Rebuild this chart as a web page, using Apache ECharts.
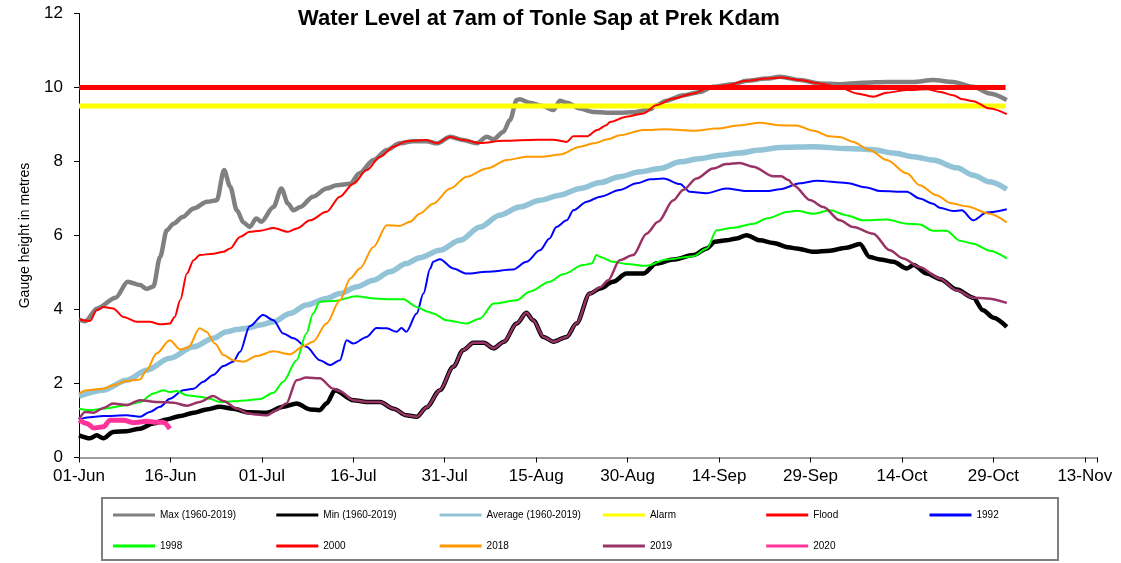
<!DOCTYPE html>
<html lang="en">
<head>
    <meta charset="UTF-8">
    <title>Water Level at 7am of Tonle Sap at Prek Kdam</title>
    <script src="https://cdn.jsdelivr.net/npm/echarts@6/dist/echarts.min.js"></script>
    <style>
        html, body { margin: 0; padding: 0; background: #fff; }
        #box { width: 1121px; height: 563px; }
    </style>
</head>
<body>
<div id="box"></div>
<script>
    // x = days since 01-Jun
    var tickLabels = ['01-Jun','16-Jun','01-Jul','16-Jul','31-Jul','15-Aug','30-Aug','14-Sep','29-Sep','14-Oct','29-Oct','13-Nov'];
    var lastDay = 152;
    var alarmLevel = 9.5;
    var floodLevel = 10;

    var maxDays = [0,1,3,6,8,10,11.1,12.2,13.3,14.4,15.5,17,18.8,21,22.6,23.8,24.8,25.9,27,28,29.1,29.9,31.9,33.2,34.3,35.2,36.3,38.4,40.6,42.3,44.5,46,48.3,50.5,52.6,54.8,57,58.7,60.9,63,65.2,66.9,68,69.6,70.7,71.8,72.3,73.9,76.1,77.8,78.9,80,82.2,84.4,86.5,88.7,90.9,93.7,94.7,96.3,99.1,101.9,104,107.4,109.5,112.8,115,118.3,121.5,124.8,128.7,132.5,136.9,140.1,143.4,146.7,149.4,152.2];
    var maxVals = [3.73,3.68,4.03,4.32,4.75,4.66,4.56,4.62,5.42,6.14,6.32,6.5,6.73,6.91,6.95,7.77,7.32,6.68,6.35,6.23,6.46,6.37,6.77,7.27,6.86,6.68,6.77,7.05,7.27,7.36,7.4,7.68,8.04,8.31,8.49,8.55,8.55,8.49,8.67,8.58,8.49,8.67,8.6,8.8,9.12,9.66,9.68,9.59,9.5,9.39,9.64,9.59,9.43,9.34,9.32,9.32,9.33,9.41,9.52,9.64,9.79,9.88,10.02,10.09,10.18,10.24,10.29,10.2,10.11,10.09,10.13,10.15,10.15,10.2,10.15,10.02,9.84,9.66];

    var minDays = [0,1.8,2.9,4,5.6,7.8,10,12.2,14.4,16.6,18.8,20.9,23.1,25.3,27.8,30.8,33.5,35.7,37.9,39.5,40.6,42,45,47.2,49.4,51.6,53.7,55.4,57,59.2,61.4,63,64.7,66.4,68,69.7,71.8,73.4,74.5,76.2,77.8,80,81.6,83.8,85.5,87.6,89.8,92.6,94.7,97.5,100.8,103,104.3,106.2,107.9,109.5,111.7,113.9,116.4,117.7,120.5,123.2,125.9,128.1,129.7,131.4,133.6,135.8,136.9,139.1,141.3,144,146.7,148.3,150,152.2];
    var minVals = [0.6,0.52,0.6,0.52,0.69,0.71,0.78,0.92,1.03,1.12,1.21,1.3,1.37,1.32,1.22,1.21,1.37,1.46,1.3,1.28,1.46,1.82,1.55,1.5,1.5,1.32,1.14,1.1,1.35,1.82,2.45,2.9,3.1,3.1,2.95,3.13,3.62,3.91,3.71,3.26,3.13,3.26,3.62,4.43,4.57,4.75,4.97,4.97,5.24,5.35,5.47,5.65,5.83,5.87,5.92,6.01,5.87,5.8,5.68,5.65,5.56,5.59,5.67,5.77,5.42,5.35,5.29,5.11,5.2,4.97,4.82,4.54,4.32,3.98,3.78,3.53];

    var avgDays = [0,4,7.8,11.1,14.9,18.8,22,24.2,25.9,27.8,29.7,31.9,34.6,37.3,40.6,42.8,45.5,48.3,51,53.7,55.9,59.2,62.5,65.8,69,72.3,75.6,78.9,82.2,85.5,88.7,92,95.3,98.6,101.9,105.2,108.4,111.7,115,120.5,126,130.3,133.6,136.9,140.1,144,146.7,149.4,152.2];
    var avgVals = [1.66,1.82,2.09,2.36,2.68,2.99,3.22,3.4,3.46,3.5,3.58,3.67,3.89,4.12,4.3,4.43,4.61,4.79,5.02,5.24,5.4,5.6,5.87,6.23,6.55,6.77,6.95,7.09,7.27,7.43,7.59,7.72,7.81,7.99,8.08,8.17,8.23,8.31,8.38,8.4,8.35,8.32,8.23,8.13,8.04,7.83,7.63,7.45,7.25];

    var y1992Days = [0,1.3,4,7.8,10,11.6,13.3,14.9,17.1,18.8,20.4,22,23.7,25.3,26.4,28,30.2,31.9,33.5,35.2,37.3,39.5,41.2,42.8,43.9,45,47.2,48.8,50.5,52.1,52.9,53.7,55.4,56.5,57.6,58.1,59.2,61.4,63.6,66.9,71.2,73.4,75.6,77.2,78.3,80,81.1,83.3,85.5,88.7,91.5,93.7,95.9,98.6,100.2,102.9,106.2,109.5,112.8,115,118.3,121,125.9,129.2,131.4,135.8,137.9,140.1,141.2,143.4,144.8,146.7,148.9,152.2];
    var y1992Vals = [1.01,1.08,1.12,1.14,1.1,1.23,1.37,1.59,1.82,1.86,2.05,2.23,2.47,2.59,2.85,3.55,3.85,3.71,3.35,3.22,2.99,2.63,2.5,2.63,3.17,3.08,3.26,3.5,3.49,3.4,3.5,3.4,3.89,4.43,5.1,5.29,5.36,5.11,4.97,5.02,5.08,5.29,5.6,5.92,6.23,6.41,6.68,6.91,7.05,7.23,7.41,7.52,7.54,7.39,7.18,7.14,7.27,7.2,7.2,7.25,7.41,7.48,7.42,7.3,7.2,7.18,7.0,6.86,6.75,6.66,6.68,6.41,6.62,6.71];

    var y1998Days = [0,1.8,4,7.8,10,12.2,13.8,14.9,16,17.7,19.8,21.5,23.1,25.3,27.8,29.7,31.9,33.5,35.7,37.3,38.4,39.5,41.8,45.5,48.3,50.5,53.2,55.4,57.3,58.1,60.3,63.6,65.8,68,71.8,73.9,77.2,79.4,82.7,84.1,84.9,85.5,87.6,89.8,93.1,96.4,100.8,103,104.6,107.3,110.7,112.8,116.4,117.7,120.5,123.2,125.9,128.6,132.5,135.8,137.9,140.1,142.3,144.5,146.7,149.4,152.2];
    var y1998Vals = [1.32,1.28,1.32,1.41,1.5,1.73,1.82,1.77,1.8,1.68,1.64,1.59,1.5,1.52,1.55,1.58,1.75,2.05,2.63,3.35,3.89,4.21,4.23,4.36,4.3,4.28,4.28,4.07,3.94,3.89,3.71,3.62,3.76,4.16,4.25,4.48,4.75,4.95,5.2,5.24,5.47,5.42,5.29,5.23,5.18,5.35,5.44,5.65,6.14,6.21,6.32,6.46,6.64,6.67,6.59,6.68,6.55,6.41,6.43,6.32,6.3,6.13,6.13,5.86,5.78,5.59,5.38];

    var y2000Days = [0,1.8,2.9,4,5.6,7.3,9.5,11.6,13.3,14.9,15.7,16.6,17.7,18.8,19.8,22,23.7,24.8,26.4,28,29.7,31.9,34.3,35.7,37.9,40.6,42.8,45,47.2,49.4,51.6,53.7,57,58.7,60.9,63,65.8,69.6,75.1,77.8,80,81.1,83.3,85,86.5,87.1,89.8,92.6,94.7,97.5,100.8,103.5,106.3,109.5,112.8,115.2,118.3,121.5,124.8,127.6,130.3,132.5,135.8,139.1,141.3,143.4,145,146.7,149.4,152.2];
    var y2000Vals = [3.73,3.69,3.98,4.07,4.03,3.8,3.67,3.67,3.6,3.62,3.8,4.25,4.97,5.33,5.47,5.51,5.56,5.65,5.96,6.1,6.13,6.2,6.1,6.19,6.41,6.64,7.05,7.4,7.77,8.13,8.4,8.55,8.58,8.49,8.67,8.58,8.5,8.56,8.59,8.59,8.53,8.68,8.68,8.85,8.98,9.07,9.21,9.3,9.52,9.7,9.84,10.0,10.06,10.18,10.24,10.27,10.2,10.11,10.0,9.84,9.75,9.86,9.93,9.95,9.88,9.79,9.68,9.63,9.43,9.28];

    var y2018Days = [0,1.3,4,5.6,7.8,10,11.1,12.7,14.9,16.6,17.9,19.8,20.9,22.3,23.7,25.3,27,29.1,31.9,34.6,36.8,38.4,40.6,42.8,44.5,46.1,48.3,50.5,52.6,54.3,55.9,58.1,60.9,63.6,66.9,70.2,73.4,76.2,78.9,82.2,84.4,86.8,88.7,92.6,96.3,100.8,104.6,108.4,111.7,115,117.7,120.5,123.2,124.8,127,129.7,132.5,135.8,137.9,140.7,142.9,145.6,149.4,152.2];
    var y2018Vals = [1.73,1.82,1.86,1.95,2.07,2.11,2.36,2.81,3.17,2.92,2.97,3.49,3.4,3.08,2.77,2.63,2.59,2.74,2.87,2.79,3.01,3.13,3.62,4.25,4.84,5.11,5.69,6.28,6.26,6.37,6.59,6.86,7.27,7.59,7.81,8.04,8.13,8.13,8.19,8.4,8.49,8.6,8.71,8.85,8.87,8.83,8.89,8.98,9.05,8.98,8.97,8.83,8.68,8.66,8.53,8.31,8.04,7.68,7.36,7.09,6.88,6.79,6.59,6.35];

    var y2019Days = [0,1,2.4,4,5.6,7.8,10,12.7,15.5,17.7,19.8,22,23.7,25.9,27.8,28.6,30.8,32.4,34,35.7,37.3,39.5,41.7,42.8,45,47.2,49.4,51.6,53.7,55.4,57,59.2,61.4,63,64.7,66.4,68,69.7,71.8,73.4,74.5,76.2,77.8,80,81.6,83.8,85.5,86.8,88.7,90.9,93.1,95,97.5,99.1,101.3,104,106.2,108.4,110.6,113.9,115.2,116.4,117.2,120,122.1,124.8,127,130.3,133,135.2,137.9,141.2,144,146.7,148.9,152.2];
    var y2019Vals = [1.03,1.23,1.21,1.34,1.46,1.42,1.55,1.5,1.48,1.4,1.5,1.66,1.53,1.32,1.19,1.17,1.14,1.28,1.46,2.09,2.16,2.14,1.86,1.79,1.55,1.5,1.5,1.32,1.14,1.1,1.35,1.82,2.45,2.9,3.1,3.1,2.95,3.13,3.62,3.91,3.71,3.26,3.13,3.26,3.62,4.43,4.6,4.79,5.33,5.47,6.05,6.37,6.95,7.23,7.54,7.81,7.93,7.96,7.86,7.6,7.6,7.5,7.36,6.95,6.77,6.41,6.23,6.05,5.6,5.38,5.15,4.84,4.52,4.32,4.3,4.18];

    var y2020Days = [0,1.3,2.4,4,5.1,7.3,8.9,11.1,12.7,13.8,14.9];
    var y2020Vals = [1.01,0.92,0.8,0.83,1.01,1.01,0.94,0.98,0.95,0.95,0.78];

    function pairs(days, vals) {
        var out = [];
        for (var i = 0; i < days.length; i++) out.push([days[i], vals[i]]);
        return out;
    }

    var seriesDefs = [
        {name: 'Max (1960-2019)', data: pairs(maxDays, maxVals), color: '#808080', width: 4.5},
        {name: 'Min (1960-2019)', data: pairs(minDays, minVals), color: '#000000', width: 4.5},
        {name: 'Average (1960-2019)', data: pairs(avgDays, avgVals), color: '#93C3D7', width: 5.5},
        {name: 'Alarm', data: [[0, alarmLevel], [lastDay, alarmLevel]], color: '#FFFF00', width: 5},
        {name: 'Flood', data: [[0, floodLevel], [lastDay, floodLevel]], color: '#FF0000', width: 5},
        {name: '1992', data: pairs(y1992Days, y1992Vals), color: '#0000FF', width: 2},
        {name: '1998', data: pairs(y1998Days, y1998Vals), color: '#00FF00', width: 2},
        {name: '2000', data: pairs(y2000Days, y2000Vals), color: '#FF0000', width: 2},
        {name: '2018', data: pairs(y2018Days, y2018Vals), color: '#FF9900', width: 2},
        {name: '2019', data: pairs(y2019Days, y2019Vals), color: '#993366', width: 2.5},
        {name: '2020', data: pairs(y2020Days, y2020Vals), color: '#FF3399', width: 5}
    ];

    var series = seriesDefs.map(function (s) {
        return {
            name: s.name,
            type: 'line',
            data: s.data,
            symbol: 'none',
            smooth: 0.3,
            smoothMonotone: 'x',
            color: s.color,
            itemStyle: {color: s.color},
            lineStyle: {color: s.color, width: s.width},
            animation: false
        };
    });

    // legend laid out as a 6-column grid inside the box
    var legends = seriesDefs.map(function (s, i) {
        var col = i < 6 ? i : i - 6;
        var row = i < 6 ? 0 : 1;
        return {
            data: [s.name],
            left: 113 + col * 163.3,
            top: 510 + row * 31,
            padding: 0,
            icon: 'rect',
            itemWidth: 42,
            itemHeight: 3,
            selectedMode: false,
            textStyle: {fontFamily: 'Liberation Sans', fontSize: 10, color: '#000'}
        };
    });

    var mychart = echarts.init(document.getElementById('box'), null, {renderer: 'canvas'});
    var option = {
        animation: false,
        backgroundColor: '#fff',
        title: {
            text: 'Water Level at 7am of Tonle Sap at Prek Kdam',
            left: 293,
            top: 3,
            textStyle: {fontFamily: 'Liberation Sans', fontSize: 22, fontWeight: 'bold', color: '#000'}
        },
        grid: {left: 79, right: 24, top: 13.5, bottom: 105.5, containLabel: false},
        xAxis: {
            type: 'value',
            min: 0,
            max: 167,
            interval: 15,
            axisLine: {lineStyle: {color: '#808080', width: 1.5}},
            axisTick: {inside: false, length: 5, lineStyle: {color: '#000'}},
            splitLine: {show: false},
            axisLabel: {
                margin: 10,
                fontFamily: 'Liberation Sans',
                fontSize: 17,
                color: '#000',
                formatter: function (v) { return v % 15 === 0 ? tickLabels[v / 15] : ''; }
            }
        },
        yAxis: {
            type: 'value',
            min: 0,
            max: 12,
            interval: 2,
            name: 'Gauge height in metres',
            nameLocation: 'middle',
            nameGap: 47,
            nameTextStyle: {fontFamily: 'Liberation Sans', fontSize: 14, color: '#000'},
            axisLine: {show: true, lineStyle: {color: '#000', width: 1}},
            axisTick: {show: true, inside: false, length: 5, lineStyle: {color: '#000'}},
            splitLine: {show: false},
            axisLabel: {margin: 16, fontFamily: 'Liberation Sans', fontSize: 17, color: '#000'}
        },
        legend: legends,
        graphic: [{
            type: 'rect',
            shape: {x: 102, y: 498, width: 956, height: 62},
            style: {fill: 'none', stroke: '#808080', lineWidth: 2},
            silent: true
        }],
        series: series
    };
    mychart.setOption(option);
</script>
</body>
</html>
